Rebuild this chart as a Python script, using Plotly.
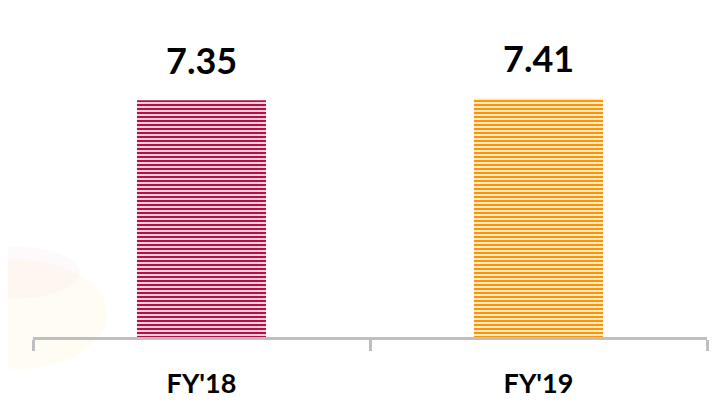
import plotly.graph_objects as go

categories = ["FY'18", "FY'19"]
values = [7.35, 7.41]
value_labels = ["7.35", "7.41"]
stripe_colors = ["#b31046", "#ff9400"]
gap_colors = ["#e37f9d", "#ffd08a"]

fig = go.Figure()
fig.add_trace(go.Bar(
    x=categories,
    y=values,
    width=0.383,
    marker=dict(
        color=stripe_colors,
        line=dict(width=0),
        pattern=dict(shape="-", size=4, solidity=0.6,
                     fgcolor=stripe_colors, bgcolor=gap_colors,
                     fillmode="replace"),
    ),
    hoverinfo="skip",
))

for c, v, t in zip(categories, values, value_labels):
    fig.add_annotation(x=c, y=v, text="<b>" + t + "</b>", showarrow=False,
                       yanchor="bottom", yshift=16,
                       font=dict(family="Lato", size=36, color="#000000"))

# faint decorative background swirl at left
fig.add_shape(type="circle", xref="paper", yref="paper",
              x0=-0.16, x1=0.11, y0=-0.10, y1=0.24,
              line=dict(width=0), fillcolor="rgba(255,242,205,0.22)", layer="below")
fig.add_shape(type="circle", xref="paper", yref="paper",
              x0=-0.12, x1=0.07, y0=0.12, y1=0.28,
              line=dict(width=0), fillcolor="rgba(245,205,220,0.12)", layer="below")

fig.update_layout(
    width=709, height=395,
    margin=dict(l=25, r=10, t=7, b=66, autoexpand=False),
    plot_bgcolor="rgba(0,0,0,0)",
    paper_bgcolor="#ffffff",
    showlegend=False,
    xaxis=dict(
        automargin=False,
        showline=True, linecolor="#bfbfbf", linewidth=3,
        ticks="outside", tickson="boundaries", ticklen=11, tickwidth=3,
        tickcolor="#bfbfbf", ticklabelstandoff=21,
        tickfont=dict(family="Lato", size=27, color="#000000", weight="bold"),
        showgrid=False, zeroline=False,
    ),
    yaxis=dict(range=[0, 10], visible=False, showgrid=False, zeroline=False,
               automargin=False),
)

fig.write_html("out.html")
